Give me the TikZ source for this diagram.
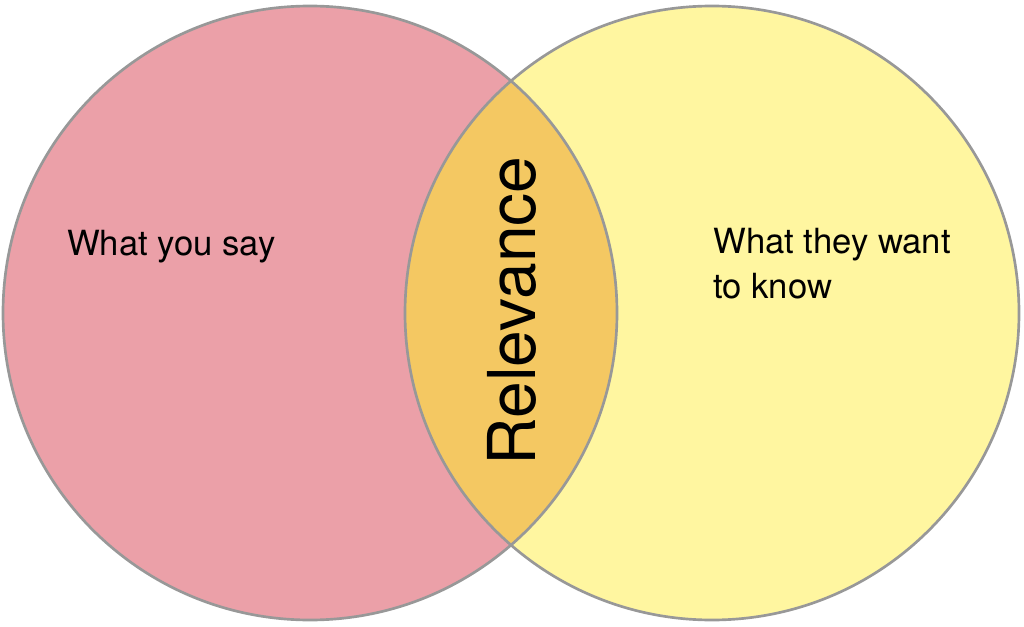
\documentclass[tikz,border=0pt]{standalone}
\usepackage{fontspec}
\setmainfont{TeX Gyre Heros}
\definecolor{saypink}{RGB}{235,160,168}
\definecolor{wantyellow}{RGB}{255,246,160}
\definecolor{relorange}{RGB}{244,200,98}
\definecolor{rimgray}{RGB}{152,152,152}
\tikzset{
	rim/.style={line width=2pt, color=rimgray},
	label/.style={inner sep=0pt, font=\fontsize{26}{33.75}\selectfont},
}

\begin{document}
\begin{tikzpicture}[x=0.75pt, y=0.75pt]
			%%%%% START %%%%%
			
			\useasboundingbox (0, 0) rectangle (1024, 626);
			
			\coordinate (say) at (310, 313);
			\coordinate (want) at (712, 313);
			
			\fill[saypink] (say) circle (230.25pt);
			\fill[wantyellow] (want) circle (230.25pt);
			\begin{scope}
				\clip (say) circle (230.25pt);
				\fill[relorange] (want) circle (230.25pt);
			\end{scope}
			
			\draw[rim] (say) circle (230.25pt);
			\draw[rim] (want) circle (230.25pt);
			
			\node[label, anchor=base west] (saytext) at (67, 371) {What you say};
			\node[label, anchor=base west, align=left] (wanttext) at (713, 328) {What they want\\to know};
			
			\node[inner sep=0pt, rotate=90, anchor=base, font=\fontsize{49.5}{58}\selectfont] (reltext) at (535, 315) {Relevance};
			
			%%%%% END %%%%%
\end{tikzpicture}
\end{document}
